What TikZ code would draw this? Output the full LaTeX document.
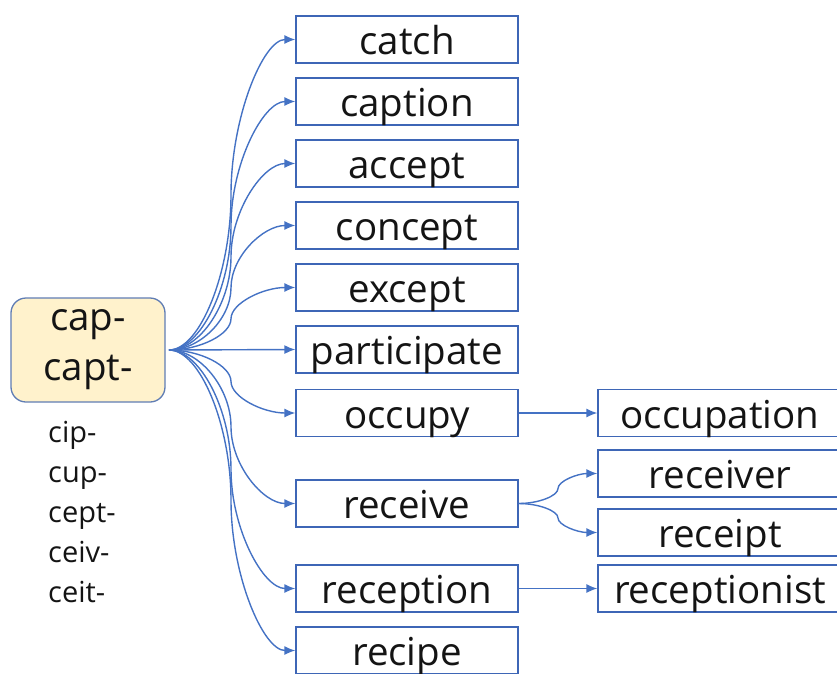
\documentclass[tikz,border=0pt]{standalone}
\usepackage{fontspec}
\setmainfont{Open Sans}
\usetikzlibrary{arrows.meta,calc}
\definecolor{lnblue}{RGB}{68,114,196}
\definecolor{bxblue}{RGB}{62,102,182}
\definecolor{rootline}{RGB}{96,125,180}
\definecolor{rootfill}{RGB}{255,242,204}
\definecolor{txt}{RGB}{20,20,20}
% curved connector: from #1 to #2, vertical run at canvas x = #3
\newcommand{\cconn}[3]{%
  \draw[conn] let \p1=(#1), \p2=(#2) in
    (\p1) .. controls ({(\x1+#3)/2},\y1) and (#3,{\y1+(\y2-\y1)/4}) ..
    (#3,{(\y1+\y2)/2}) .. controls (#3,{\y1+3*(\y2-\y1)/4}) and ({(#3+\x2)/2},\y2) .. (\p2);}
\begin{document}
\begin{tikzpicture}[x=1pt,y=-1pt,
  wbox/.style={draw=bxblue,line width=1.3pt,minimum width=222pt,minimum height=47pt,inner sep=0pt,
    font=\fontsize{38.5}{44}\selectfont,text height=37pt,text depth=7pt,text=txt},
  wbox2/.style={wbox,minimum width=244pt},
  rootbox/.style={draw=rootline,fill=rootfill,line width=1.3pt,rounded corners=15pt,minimum width=154pt,
    minimum height=104pt,inner sep=0pt,align=center,font=\fontsize{38.5}{50}\selectfont,text=txt},
  var/.style={anchor=base west,inner sep=0pt,font=\fontsize{29}{36}\selectfont,text=txt},
  conn/.style={draw=lnblue,line width=1.4pt,-{Latex[length=11pt,width=9pt]}}]
\useasboundingbox (0,0) rectangle (837,673);
\clip (0,0) rectangle (837,673);

\node[rootbox] (root) at (88,350) {cap-\\capt-};
\coordinate (hub) at (169,350);

\node[var] (v1) at (48,442) {cip-};
\node[var] (v2) at (48,482) {cup-};
\node[var] (v3) at (48,522) {cept-};
\node[var] (v4) at (48,562) {ceiv-};
\node[var] (v5) at (48,602) {ceit-};

\node[wbox] (catch) at (407,39.5) {catch};
\node[wbox] (caption) at (407,101.5) {caption};
\node[wbox] (accept) at (407,163.5) {accept};
\node[wbox] (concept) at (407,225.5) {concept};
\node[wbox] (except) at (407,287.5) {except};
\node[wbox] (participate) at (407,349.5) {participate};
\node[wbox] (occupy) at (407,413) {occupy};
\node[wbox] (receive) at (407,503.5) {receive};
\node[wbox] (reception) at (407,588.5) {reception};
\node[wbox] (recipe) at (407,650.5) {recipe};

\node[wbox2] (occupation) at (720,413) {occupation};
\node[wbox2] (receiver) at (720,473.5) {receiver};
\node[wbox2] (receipt) at (720,532.5) {receipt};
\node[wbox2] (receptionist) at (720,588.5) {receptionist};

\foreach \t in {catch,caption,accept,concept,except,occupy,receive,reception,recipe}
  \cconn{hub}{\t.west}{231pt};
\draw[conn] (hub) -- (participate.west);

\draw[conn] (occupy.east) -- (occupation.west);
\draw[conn] (reception.east) -- (receptionist.west);
\cconn{receive.east}{receiver.west}{558pt}
\cconn{receive.east}{receipt.west}{558pt}
\end{tikzpicture}
\end{document}
